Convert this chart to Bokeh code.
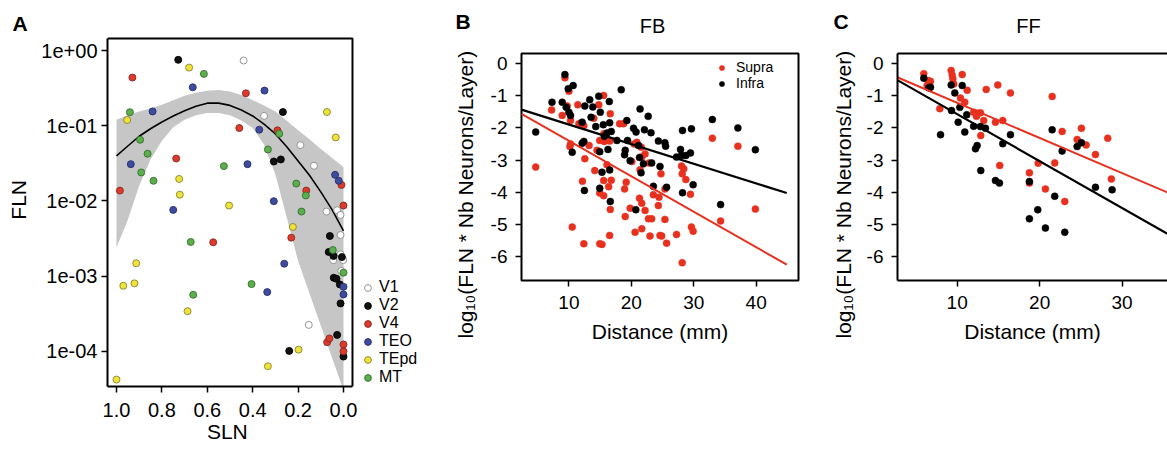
import numpy as np
from bokeh.plotting import figure
from bokeh.layouts import row, column
from bokeh.models import Range1d, FixedTicker, Legend, LegendItem, LinearAxis, Title
from bokeh.core.properties import value
from bokeh.embed import file_html
from bokeh.resources import INLINE

FONT = "Liberation Sans"
NB = "\u00a0"

# ---------------- Panel A data (SLN vs FLN) ----------------
areas = ["V1", "V2", "V4", "TEO", "TEpd", "MT"]
v1_sln = [0.44, 0.35, 0.19, 0.13, 0.075, 0.028, 0.013, 0.013, 0.045, 0.013, 0.001, 0.010, 0.153]
v1_fln = [0.736, 0.135, 0.0552, 0.0293, 0.00721, 0.00752, 0.0065, 0.00352, 0.00163, 0.00195, 0.00163, 0.00117, 0.000224]
v2_sln = [0.728, 0.267, 0.307, 0.276, 0.060, 0.065, 0.044, 0.007, 0.043, 0.031, 0.016, 0.013, 0.028, 0.0, 0.239]
v2_fln = [0.752, 0.152, 0.0334, 0.0356, 0.00341, 0.00209, 0.00185, 0.00179, 0.000948, 0.00092, 0.000774, 0.000433, 0.000165, 0.0000849, 0.000101]
v4_sln = [0.930, 0.430, 0.459, 0.291, 0.737, 0.009, 0.164, 0.985, 0.0, 0.574, 0.230, 0.072, 0.062, 0.0, 0.0]
v4_fln = [0.437, 0.270, 0.0931, 0.0867, 0.0366, 0.0163, 0.0137, 0.0137, 0.00867, 0.00281, 0.00324, 0.000132, 0.000148, 0.000123, 0.0001]
teo_sln = [0.664, 0.348, 0.841, 0.371, 0.937, 0.423, 0.037, 0.021, 0.750, 0.307, 0.261, 0.336, 0.0, 0.0]
teo_fln = [0.324, 0.293, 0.155, 0.0885, 0.0308, 0.0308, 0.0222, 0.0185, 0.00759, 0.00991, 0.00146, 0.000612, 0.000719, 0.00057]
tepd_sln = [0.680, 0.953, 0.073, 0.034, 0.724, 0.721, 0.504, 0.223, 0.913, 0.970, 0.921, 0.687, 0.198, 0.333, 1.0]
tepd_fln = [0.593, 0.119, 0.152, 0.0698, 0.0196, 0.0121, 0.00867, 0.0045, 0.00148, 0.000743, 0.0008, 0.000341, 0.000105, 0.0000631, 0.000042]
mt_sln = [0.615, 0.941, 0.283, 0.896, 0.863, 0.333, 0.527, 0.891, 0.837, 0.208, 0.166, 0.185, 0.673, 0.047, 0.0, 0.405, 0.662]
mt_fln = [0.489, 0.151, 0.0782, 0.065, 0.0424, 0.0483, 0.029, 0.0239, 0.0185, 0.017, 0.0118, 0.00721, 0.00284, 0.00222, 0.00111, 0.000782, 0.000564]

# fitted curve and confidence band (log10 FLN)
fit_sln = [1.0, 0.95, 0.9, 0.85, 0.8, 0.75, 0.7, 0.65, 0.6, 0.55, 0.5, 0.45, 0.4, 0.35, 0.3, 0.25, 0.2, 0.15, 0.1, 0.05, 0.0]
fit_log = [-1.40, -1.27, -1.14, -1.04, -0.95, -0.87, -0.80, -0.74, -0.70, -0.70, -0.73, -0.79, -0.87, -0.98, -1.11, -1.28, -1.47, -1.66, -1.88, -2.12, -2.40]
band_hi_log = [-0.92, -0.86, -0.81, -0.77, -0.72, -0.66, -0.60, -0.56, -0.535, -0.525, -0.545, -0.59, -0.66, -0.73, -0.81, -0.935, -1.06, -1.18, -1.31, -1.43, -1.55]
band_lo_log = [-2.62, -2.25, -1.80, -1.45, -1.20, -1.02, -0.92, -0.86, -0.83, -0.83, -0.86, -0.93, -1.03, -1.25, -1.65, -2.22, -2.80, -3.23, -3.66, -4.09, -4.52]

a_x_ticks = [1.0, 0.8, 0.6, 0.4, 0.2, 0.0]
a_x_labels = ["1.0", "0.8", "0.6", "0.4", "0.2", "0.0"]
a_y_ticks = [1.0, 0.1, 0.01, 0.001, 0.0001]
a_y_labels = ["1e+00", "1e-01", "1e-02", "1e-03", "1e-04"]

# ---------------- Panel B data (FB) ----------------
fb_infra_dist = [9.36, 9.89, 10.68, 7.29, 8.93, 13.34, 14.78, 16.47, 18.38, 12.55, 13.82, 15.03, 10.00, 10.26,
                 12.12, 13.55, 14.30, 15.51, 16.53, 19.28, 21.40, 20.35, 20.76, 23.15, 16.10, 16.78, 15.67, 17.69,
                 19.39, 21.15, 12.39, 12.12, 10.53, 14.94, 16.26, 19.02, 18.92, 21.31, 19.81, 23.26, 21.94, 21.56,
                 15.30, 16.53, 12.48, 14.94, 16.63, 20.72, 4.68, 23.53, 24.33, 25.38, 25.49, 28.20, 29.63, 32.98,
                 37.07, 39.87, 27.88, 27.24, 28.04, 28.73, 29.47, 24.59, 25.65, 29.90, 28.20, 34.30, 22.10, 9.57, 22.70]
fb_infra_val = [-0.34, -0.78, -0.68, -1.20, -1.20, -1.12, -1.01, -1.18, -0.81, -1.32, -1.35, -1.51, -1.51, -1.61,
                -1.82, -1.67, -1.96, -1.90, -1.84, -1.77, -1.41, -2.01, -2.13, -2.15, -2.16, -2.11, -2.26, -2.39,
                -2.39, -2.55, -2.42, -2.48, -2.76, -2.74, -2.67, -2.70, -2.84, -2.92, -3.02, -3.09, -3.12, -3.40,
                -3.38, -3.31, -3.95, -3.88, -4.29, -4.55, -2.13, -3.82, -2.41, -2.46, -2.57, -2.08, -2.03, -1.74,
                -2.00, -2.68, -2.67, -2.91, -2.86, -2.86, -2.78, -3.20, -3.85, -3.77, -4.02, -4.39, -2.06, -1.36, -1.64]
fb_supra_dist = [9.36, 10.00, 7.23, 9.73, 11.43, 8.93, 10.26, 11.59, 12.39, 13.98, 14.78, 15.57, 16.63, 18.12,
                 18.76, 15.67, 14.94, 16.53, 13.23, 14.50, 10.26, 10.16, 12.55, 14.14, 16.10, 15.57, 16.78, 12.17,
                 14.94, 15.57, 16.37, 16.63, 18.92, 19.18, 20.88, 20.45, 20.08, 21.40, 21.31, 21.67, 19.81, 19.02,
                 22.74, 23.26, 22.20, 4.68, 10.53, 12.39, 14.94, 15.30, 16.53, 20.60, 21.67, 22.99, 32.98, 37.07,
                 28.04, 28.40, 28.15, 28.73, 24.75, 25.38, 29.47, 23.53, 24.43, 24.33, 25.38, 24.59, 24.86, 25.65,
                 27.24, 29.63, 29.90, 34.30, 39.87, 28.15, 21.67, 22.84, 21.60, 22.20, 15.60]
fb_supra_val = [-0.44, -0.86, -1.44, -1.32, -1.28, -1.61, -1.77, -1.87, -1.93, -1.70, -1.28, -0.99, -1.56, -1.87,
                -1.87, -2.42, -2.39, -2.41, -2.55, -2.70, -2.50, -2.58, -2.96, -3.33, -3.15, -3.64, -3.63, -3.66,
                -4.03, -4.11, -3.83, -4.54, -3.90, -3.69, -2.45, -2.50, -3.05, -3.30, -4.19, -4.35, -4.50, -4.76,
                -4.83, -4.83, -4.57, -3.22, -5.09, -5.61, -5.61, -5.63, -5.35, -5.25, -5.14, -5.37, -2.32, -2.57,
                -3.19, -3.27, -3.43, -3.61, -3.43, -3.90, -4.07, -4.08, -4.16, -4.42, -4.85, -5.35, -5.37, -5.59,
                -5.32, -5.09, -5.22, -4.90, -4.53, -6.20, -2.91, -3.09, -2.60, -2.81, -2.18]
fb_fit_dist = [2.4, 44.9]
fb_fit_infra = [-1.43, -4.03]
fb_fit_supra = [-1.56, -6.26]

# ---------------- Panel C data (FF) ----------------
ff_supra_dist = [5.95, 6.48, 6.76, 6.36, 9.27, 9.39, 9.47, 9.59, 10.61, 11.21, 10.40, 10.92, 7.89, 13.52, 14.92,
                 16.46, 12.00, 12.42, 12.82, 12.34, 13.22, 14.64, 15.53, 12.86, 15.16, 21.52, 22.73, 25.07, 24.55,
                 25.64, 28.26, 26.77, 21.83, 19.82, 18.76, 18.76, 20.70, 23.05, 28.70]
ff_supra_val = [-0.31, -0.52, -0.55, -0.68, -0.21, -0.35, -0.47, -0.63, -0.34, -0.83, -1.07, -1.20, -1.40, -0.80, -0.66,
                -0.91, -1.51, -1.54, -1.53, -1.64, -1.77, -1.82, -1.77, -2.24, -3.17, -1.02, -2.11, -2.01, -2.36,
                -2.53, -2.32, -2.83, -3.09, -3.10, -3.40, -3.72, -3.90, -4.29, -3.59]
ff_infra_dist = [5.95, 6.56, 6.76, 9.27, 9.71, 10.61, 10.32, 9.31, 11.16, 10.12, 10.92, 12.00, 12.82, 13.43, 7.98,
                 16.46, 15.53, 12.42, 12.22, 12.86, 14.64, 15.13, 21.52, 22.73, 24.55, 25.07, 18.76, 21.83, 26.77,
                 28.79, 19.77, 18.76, 20.70, 23.05]
ff_infra_val = [-0.45, -0.75, -0.73, -0.66, -0.91, -0.68, -1.36, -1.46, -1.59, -1.82, -2.13, -1.95, -1.96, -2.01, -2.21,
                -2.21, -2.49, -2.55, -2.65, -3.33, -3.64, -3.72, -2.06, -2.72, -2.58, -2.46, -3.67, -4.13, -3.85,
                -3.93, -4.55, -4.83, -5.12, -5.25]
ff_fit_dist = [2.8, 35.5]
ff_fit_supra = [-0.43, -4.01]
ff_fit_infra = [-0.52, -5.30]

bc_x_ticks = [10, 20, 30, 40]
bc_x_labels = ["10", "20", "30", "40"]
bc_y_ticks = [0, -1, -2, -3, -4, -5, -6]
bc_y_labels = ["0", "-1", "-2", "-3", "-4", "-5", "-6"]
legend_bc = ["Supra", "Infra"]
panel_letters = ["A", "B", "C"]
panel_titles = ["FB", "FF"]

RED = "#e8301f"
area_fill = ["white", "#111111", "#dc3a2c", "#3d4c9e", "#efe23a", "#5dae4c"]
area_line = ["#8a8a8a", "#000000", "#8a2a20", "#262f6a", "#8a8430", "#33702e"]


def style(p, tick_px, label_px):
    p.xgrid.visible = False
    p.ygrid.visible = False
    p.background_fill_color = "white"
    p.border_fill_color = "white"
    p.title.visible = False
    for ax in [p.below[0], p.left[0]]:
        ax.major_tick_in = 0
        ax.major_tick_out = 6
        ax.major_tick_line_color = "black"
        ax.major_tick_line_width = 1.5
        ax.minor_tick_line_color = None
        ax.major_label_text_font = FONT
        ax.major_label_text_font_size = tick_px
        ax.major_label_text_color = "black"
        ax.axis_label_text_font = FONT
        ax.axis_label_text_font_size = label_px
        ax.axis_label_text_font_style = "normal"
        ax.axis_label_text_color = "black"


# ================= strip with panel letters and titles =================
pT = figure(width=1167, height=36, output_backend="svg", toolbar_location=None,
            x_range=Range1d(0, 1167), y_range=Range1d(36, 0),
            x_axis_location=None, y_axis_location=None, min_border=0, frame_align=False)
pT.outline_line_color = None
pT.grid.visible = False
pT.title.visible = False
pT.background_fill_color = "white"
pT.border_fill_color = "white"
pT.text(x=[12, 455, 833], y=[22.7, 21.2, 21.2], text=panel_letters,
        text_font=value(FONT), text_font_size="21px", text_font_style="bold",
        text_baseline="middle", text_align="left", text_color="black")
pT.text(x=[652, 1028], y=[25, 25], text=panel_titles,
        text_font=value(FONT), text_font_size="20px", text_font_style="normal",
        text_baseline="middle", text_align="center", text_color="black")

# ================= Panel A =================
A_TOP = 10 ** 0.16          # top edge of the drawn box
A_BOT = 10 ** -4.469        # bottom edge of the box
A_LEFT, A_RIGHT = 1.0396, -0.0396
pA = figure(width=440, height=415, output_backend="svg", toolbar_location=None,
            x_range=Range1d(A_LEFT, -0.4273), y_range=Range1d(A_BOT, 10 ** 0.1866), y_axis_type="log",
            min_border_left=107, min_border_right=0, min_border_top=0, min_border_bottom=65,
            frame_align=False)
style(pA, "20px", "21px")
pA.outline_line_color = None
pA.xaxis.axis_line_color = "black"
pA.xaxis.axis_line_width = 2
pA.yaxis.axis_line_color = "black"
pA.yaxis.axis_line_width = 2
pA.xaxis.bounds = (A_RIGHT, A_LEFT)
pA.yaxis.bounds = (A_BOT, A_TOP)
pA.xaxis.ticker = FixedTicker(ticks=a_x_ticks)
pA.xaxis.major_label_overrides = dict(zip(a_x_ticks, a_x_labels))
pA.yaxis.ticker = FixedTicker(ticks=a_y_ticks)
pA.yaxis.major_label_overrides = dict(zip(a_y_ticks, a_y_labels))
pA.xaxis.axis_label = "SLN" + NB * 16
pA.yaxis.axis_label = NB * 4 + "FLN"
pA.xaxis.major_label_standoff = 10
pA.xaxis.axis_label_standoff = 0
pA.yaxis.major_label_standoff = 4
pA.yaxis.axis_label_standoff = 8

pA.varea(x=fit_sln, y1=np.power(10.0, band_lo_log), y2=np.power(10.0, band_hi_log),
         fill_color="#c6c6c6", fill_alpha=1.0)
pA.line(fit_sln, np.power(10.0, fit_log), line_color="black", line_width=1.6)

series_a = [(v1_sln, v1_fln), (v2_sln, v2_fln), (v4_sln, v4_fln),
            (teo_sln, teo_fln), (tepd_sln, tepd_fln), (mt_sln, mt_fln)]
rendsA = []
for (xs, ys), fc, lc in zip(series_a, area_fill, area_line):
    r = pA.scatter(xs, ys, size=7, fill_color=fc, line_color=lc, line_width=0.9)
    rendsA.append(r)

# top and right sides of the box
pA.line([A_LEFT, A_RIGHT, A_RIGHT], [A_TOP, A_TOP, A_BOT], line_color="black", line_width=2)

legA = Legend(items=[LegendItem(label=n, renderers=[r]) for n, r in zip(areas, rendsA)],
              location=(252, 0), padding=0, margin=0, spacing=0,
              glyph_width=17, glyph_height=17, label_standoff=3,
              label_text_font=FONT, label_text_font_size="16px", label_text_color="black",
              border_line_color=None, background_fill_alpha=0)
pA.add_layout(legA)

# ================= Panels B and C =================
ylab = "log\u2081\u2080(FLN * Nb Neurons/Layer)"

pB = figure(width=360, height=415, output_backend="svg", toolbar_location=None,
            x_range=Range1d(2.405, 46.78), y_range=Range1d(-6.754, 0.318),
            min_border_left=79, min_border_right=2, min_border_top=17, min_border_bottom=171,
            frame_align=False)
style(pB, "19px", "21px")
pB.outline_line_color = "black"
pB.outline_line_width = 2
pB.xaxis.axis_line_color = None
pB.yaxis.axis_line_color = None

pC = figure(width=367, height=415, output_backend="svg", toolbar_location=None,
            x_range=Range1d(2.76, 35.51), y_range=Range1d(-6.754, 0.318),
            min_border_left=97, min_border_right=0, min_border_top=17, min_border_bottom=171,
            frame_align=False)
style(pC, "19px", "21px")
pC.outline_line_color = None
pC.xaxis.axis_line_color = "black"
pC.xaxis.axis_line_width = 2
pC.yaxis.axis_line_color = "black"
pC.yaxis.axis_line_width = 2

for p, lab_std in ((pB, 22), (pC, 17)):
    p.below[0].ticker = FixedTicker(ticks=bc_x_ticks)
    p.below[0].major_label_overrides = dict(zip(bc_x_ticks, bc_x_labels))
    p.left[0].ticker = FixedTicker(ticks=bc_y_ticks)
    p.left[0].major_label_overrides = dict(zip(bc_y_ticks, bc_y_labels))
    p.below[0].axis_label = "Distance (mm)"
    p.below[0].major_label_standoff = 9
    p.below[0].axis_label_standoff = 8
    p.left[0].major_label_standoff = 8
    # y-axis title, placed in the left side panel (starts below the frame like the reference)
    p.add_layout(Title(text=ylab, align="left", offset=-58, standoff=lab_std, vertical_align="bottom",
                       text_font=FONT, text_font_size="21px", text_font_style="normal",
                       text_color="black"), "left")

# top border line of the cut-off panel C
topC = LinearAxis(ticker=FixedTicker(ticks=[]), major_tick_line_color=None, minor_tick_line_color=None,
                  major_tick_out=0, major_tick_in=0, major_label_standoff=0,
                  major_label_text_font_size="0px", axis_line_color="black", axis_line_width=2)
pC.add_layout(topC, "above")

rBs = pB.scatter(fb_supra_dist, fb_supra_val, size=7, fill_color=RED, line_color=RED, line_width=0.5)
rBi = pB.scatter(fb_infra_dist, fb_infra_val, size=7, fill_color="black", line_color="black", line_width=0.5)
pB.line(fb_fit_dist, fb_fit_supra, line_color=RED, line_width=2)
pB.line(fb_fit_dist, fb_fit_infra, line_color="black", line_width=2.2)
for lab, rr, yloc in [(legend_bc[0], rBs, 205), (legend_bc[1], rBi, 189)]:
    pB.add_layout(Legend(items=[LegendItem(label=lab, renderers=[rr])],
                         location=(194, yloc), padding=0, margin=0, spacing=0,
                         glyph_width=13, glyph_height=13, label_standoff=8,
                         label_text_font=FONT, label_text_font_size="14px", label_text_color="black",
                         border_line_color=None, background_fill_alpha=0))

pC.scatter(ff_supra_dist, ff_supra_val, size=7, fill_color=RED, line_color=RED, line_width=0.5)
pC.scatter(ff_infra_dist, ff_infra_val, size=7, fill_color="black", line_color="black", line_width=0.5)
pC.line(ff_fit_dist, ff_fit_supra, line_color=RED, line_width=2)
pC.line(ff_fit_dist, ff_fit_infra, line_color="black", line_width=2.2)

layout = column(pT, row(pA, pB, pC))
open("out.html", "w").write(file_html(layout, INLINE))
